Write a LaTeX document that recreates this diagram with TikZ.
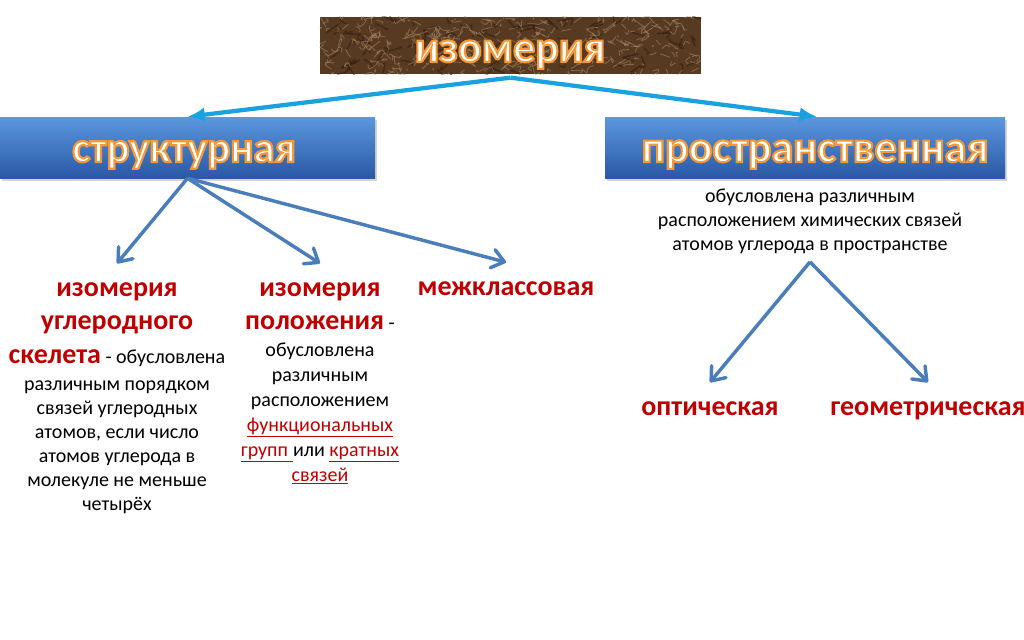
\documentclass[tikz,border=0pt]{standalone}
\usepackage{fontspec}
\setmainfont{Carlito}
\usetikzlibrary{arrows.meta,positioning,shadows}

\definecolor{skyline}{HTML}{1AA2E0}
\definecolor{steelline}{HTML}{4A7EBB}
\definecolor{termred}{HTML}{C00000}
\definecolor{boxtop}{HTML}{5B97DE}
\definecolor{boxbottom}{HTML}{2A58A6}
\definecolor{marbledark}{HTML}{573A22}
\definecolor{marblelight}{HTML}{B59470}
\definecolor{marbledeep}{HTML}{2A180C}

\newcommand{\termhead}[1]{{\color{termred}\fontsize{21}{24}\selectfont\bfseries #1}}
\newcommand{\termlink}[1]{{\color{termred}\underline{#1}}}
% white letters with an orange rim
\newcommand{\glowword}[1]{\special{pdf:literal direct 2 Tr 1.6 w 0.96 0.6 0.22 RG}#1\special{pdf:literal direct 0 Tr 0.4 w}}

\tikzset{
  kindbox/.style={rectangle, top color=boxtop, bottom color=boxbottom,
    minimum height=45.75pt,
    drop shadow={shadow xshift=1.5pt, shadow yshift=-2.5pt, opacity=0.35}},
  kindtext/.style={anchor=base, text=white, inner sep=0pt,
    font=\fontsize{32}{36}\selectfont\bfseries},
  rootbox/.style={rectangle, fill=marbledark, draw=white, line width=2.5pt,
    minimum width=288.75pt, minimum height=45.75pt,
    drop shadow={shadow xshift=0.8pt, shadow yshift=-1.2pt, opacity=0.45}},
  bodytext/.style={align=center, inner sep=0pt, font=\fontsize{15}{18}\selectfont},
  termtext/.style={inner sep=0pt, anchor=base, text=termred,
    font=\fontsize{21}{24}\selectfont\bfseries},
  vein/.style={marblelight, line width=0.7pt, opacity=0.45},
  darkvein/.style={marbledeep, line width=1.2pt, opacity=0.45},
  rootlink/.style={->, skyline, line width=3.2pt},
  sublink/.style={-{Straight Barb[round,length=9pt,width=14pt]}, steelline, line width=2.6pt}
}

\begin{document}
\begin{tikzpicture}[x=0.75pt,y=-0.75pt,>={Latex[length=13pt,width=11pt]}]
\useasboundingbox (0,0) rectangle (1024,639);

% root
\node[rootbox] (root) at (510.5,45.5) {};
\pgfmathsetseed{7}
\begin{scope}
  \clip ([shift={(2.5pt,2.5pt)}]root.south west) rectangle ([shift={(-2.5pt,-2.5pt)}]root.north east);
  \foreach \k in {1,...,90}{
    \pgfmathsetmacro{\vx}{318+385*rnd}
    \pgfmathsetmacro{\vy}{15+61*rnd}
    \draw[darkvein] (\vx,\vy) .. controls +(rand*10,rand*8) .. +(rand*16,rand*10);
  }
  \foreach \k in {1,...,320}{
    \pgfmathsetmacro{\vx}{318+385*rnd}
    \pgfmathsetmacro{\vy}{15+61*rnd}
    \draw[vein] (\vx,\vy) .. controls +(rand*6,rand*6) .. +(rand*10,rand*7);
  }
\end{scope}
\node[kindtext, font=\fontsize{33}{36}\selectfont\bfseries] (roottext) at (510,62) {\glowword{изомерия}};

% two kinds
\node[kindbox, minimum width=281.25pt] (st) at (187.5,147.5) {};
\node[kindtext] (sttext) at (184,162) {\glowword{структурная}};
\node[kindbox, minimum width=300pt] (pr) at (805,147.5) {};
\node[kindtext, font=\fontsize{33}{36}\selectfont\bfseries] (prtext) at (815,162) {\glowword{пространственная}};

\draw[rootlink] (root.south) -- (st.north);
\draw[rootlink] (root.south) -- ([xshift=9pt]pr.north);

% structural
\node[bodytext, anchor=north] (skel) at (117,282) {%
  \termhead{изомерия}\\[6.75pt]
  \termhead{углеродного}\\[7.5pt]
  \termhead{скелета} - обусловлена\\[2.25pt]
  различным порядком\\
  связей углеродных\\
  атомов, если число\\
  атомов углерода в\\
  молекуле не меньше\\
  четырёх};
\node[bodytext, anchor=north] (pos) at (320,282) {%
  \termhead{изомерия}\\[6.75pt]
  \termhead{положения} -\\[2.25pt]
  обусловлена\\[0.75pt]
  различным\\[0.75pt]
  расположением\\[0.75pt]
  \termlink{функциональных}\\[0.75pt]
  \termlink{групп\hspace{0.25em}}или \termlink{кратных}\\[0.75pt]
  \termlink{связей}};
\node[termtext] (mezh) at (506,295) {межклассовая};

\draw[sublink] (st.south) -- ([yshift=14pt]skel.north);
\draw[sublink] (st.south) -- ([yshift=14pt]pos.north);
\draw[sublink] (st.south) -- ([yshift=14pt]mezh.north);

% spatial
\node[bodytext, anchor=north] (prnote) at (810,189) {%
  обусловлена различным\\
  расположением химических связей\\
  атомов углерода в пространстве};
\node[termtext] (opt) at (710,415) {оптическая};
\node[termtext] (geo) at (928,415) {геометрическая};

\draw[sublink] ([yshift=-5.6pt]prnote.south) -- ([yshift=14pt]opt.north);
\draw[sublink] ([yshift=-5.6pt]prnote.south) -- ([yshift=14pt]geo.north);
\end{tikzpicture}
\end{document}
